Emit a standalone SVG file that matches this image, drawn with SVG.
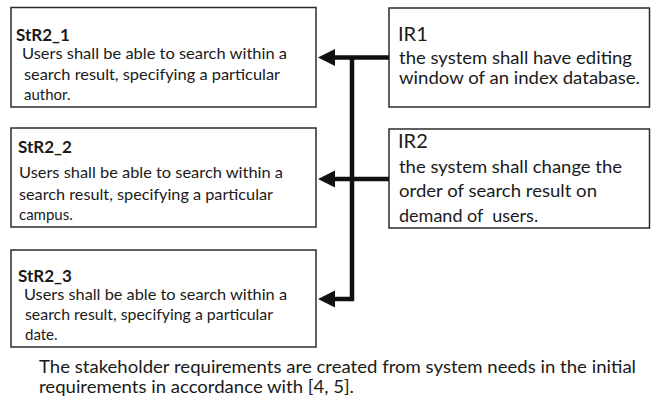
<svg xmlns="http://www.w3.org/2000/svg" width="651" height="413" viewBox="0 0 651 413">
<defs>
<style>
.box{fill:#fff;stroke:#2b2b2b;stroke-width:1.5}
.t{font-family:Lato,"Liberation Sans",sans-serif;fill:#1a1a1a}
.b{font-size:15px}
.h{font-size:17px;font-weight:bold}
.i{font-size:18px}
.ih{font-size:20px}
.c{font-size:18px}
.pre{white-space:pre}
.con{fill:none;stroke:#111;stroke-width:4.5}
</style>
<marker id="ah" markerUnits="userSpaceOnUse" markerWidth="18" markerHeight="18" viewBox="0 0 17 18" refX="9" refY="9" orient="auto">
<path d="M0,9 L17,0.5 L17,17.5 z" transform="rotate(180 8.5 9)" fill="#111"/>
</marker>
</defs>
<rect width="651" height="413" fill="#fff"/>
<g id="StR2_1">
<rect class="box" x="11" y="7.5" width="305" height="99.5"/>
<text class="t h" x="16" y="40.5">StR2_1</text>
<text class="t b" x="22" y="58.5" textLength="265" lengthAdjust="spacingAndGlyphs">Users shall be able to search within a</text>
<text class="t b" x="24" y="79.5" textLength="256" lengthAdjust="spacingAndGlyphs">search result, specifying a particular</text>
<text class="t b" x="24" y="99.5">author.</text>
</g>
<g id="StR2_2">
<rect class="box" x="11" y="128" width="305" height="99"/>
<text class="t h" x="18" y="153">StR2_2</text>
<text class="t b" x="19" y="178" textLength="264" lengthAdjust="spacingAndGlyphs">Users shall be able to search within a</text>
<text class="t b" x="19" y="199.5" textLength="254" lengthAdjust="spacingAndGlyphs">search result, specifying a particular</text>
<text class="t b" x="19" y="220">campus.</text>
</g>
<g id="StR2_3">
<rect class="box" x="11" y="250" width="305" height="97"/>
<text class="t h" x="18" y="281.5">StR2_3</text>
<text class="t b" x="24" y="299.5" textLength="263" lengthAdjust="spacingAndGlyphs">Users shall be able to search within a</text>
<text class="t b" x="25" y="320" textLength="248" lengthAdjust="spacingAndGlyphs">search result, specifying a particular</text>
<text class="t b" x="25" y="340">date.</text>
</g>
<g id="IR1">
<rect class="box" x="389" y="8" width="260.5" height="99"/>
<text class="t ih" x="398" y="41">IR1</text>
<text class="t i" x="399" y="64" textLength="233" lengthAdjust="spacingAndGlyphs">the system shall have editing</text>
<text class="t i" x="399" y="84" textLength="241" lengthAdjust="spacingAndGlyphs">window of an index database.</text>
</g>
<g id="IR2">
<rect class="box" x="389" y="129" width="260.5" height="99"/>
<text class="t ih" x="398" y="148">IR2</text>
<text class="t i" x="399" y="173" textLength="223" lengthAdjust="spacingAndGlyphs">the system shall change the</text>
<text class="t i" x="399" y="197" textLength="198" lengthAdjust="spacingAndGlyphs">order of search result on</text>
<text class="t i pre" x="399" y="221.5" xml:space="preserve">demand of  users.</text>
</g>
<g id="connectors">
<path class="con" d="M389,57.5 H326" marker-end="url(#ah)"/>
<path class="con" d="M352,57.5 V299 H326" marker-end="url(#ah)" stroke-linejoin="miter"/>
<path class="con" d="M389,179 H326" marker-end="url(#ah)"/>
</g>
<g id="caption">
<text class="t c" x="39" y="372.5" textLength="597" lengthAdjust="spacingAndGlyphs">The stakeholder requirements are created from system needs in the initial</text>
<text class="t c" x="39" y="393" textLength="315" lengthAdjust="spacingAndGlyphs">requirements in accordance with [4, 5].</text>
</g>
</svg>
